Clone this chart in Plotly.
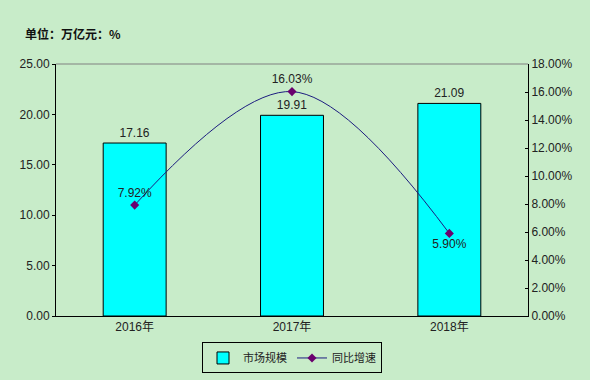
import plotly.graph_objects as go

years = ["2016年", "2017年", "2018年"]
market_size = [17.16, 19.91, 21.09]
growth = [7.92, 16.03, 5.90]
left_ticks = [0, 5, 10, 15, 20, 25]
right_ticks = [0, 2, 4, 6, 8, 10, 12, 14, 16, 18]

BG = "#C8ECC9"
FONT = "Liberation Sans, Arial, Noto Sans CJK SC, sans-serif"

fig = go.Figure()
fig.add_trace(go.Bar(
    x=years, y=market_size, name="市场规模",
    marker=dict(color="#00FFFF", line=dict(color="black", width=1)),
    text=[f"{v:.2f}" for v in market_size], textposition="outside",
    textfont=dict(size=12, color="#222"), cliponaxis=False,
))
fig.add_trace(go.Scatter(
    x=years, y=growth, name="同比增速", yaxis="y2",
    mode="lines+markers+text",
    line=dict(color="#1C1C80", width=1, shape="spline", smoothing=1.0),
    marker=dict(symbol="diamond", size=7, color="#6A006E"),
    text=[f"{v:.2f}%" for v in growth],
    textposition=["top center", "top center", "bottom center"],
    textfont=dict(size=12, color="#222"), cliponaxis=False,
))

fig.update_layout(
    width=590, height=380,
    paper_bgcolor=BG, plot_bgcolor=BG,
    margin=dict(l=56, r=62, t=64, b=64, autoexpand=False),
    font=dict(family=FONT, size=12, color="#222"),
    bargap=0.6,
    showlegend=True,
    title=dict(text="<b>单位：万亿元：%</b>", x=25/590, xanchor="left",
               y=1-35/380, yanchor="middle", xref="container", yref="container",
               font=dict(size=12, color="#111", family="Noto Sans CJK SC, sans-serif")),
    xaxis=dict(showline=True, linecolor="black", linewidth=1, showgrid=False,
               ticks="", tickfont=dict(size=12), fixedrange=True),
    yaxis=dict(range=[0, 25], tickvals=left_ticks,
               ticktext=[f"{v:.2f}" for v in left_ticks],
               showline=True, linecolor="black", linewidth=1, showgrid=False,
               ticks="outside", ticklen=3, tickcolor="black", zeroline=False),
    yaxis2=dict(range=[0, 18], tickvals=right_ticks,
                ticktext=[f"{v:.2f}%" for v in right_ticks],
                overlaying="y", side="right",
                showline=True, linecolor="black", linewidth=1, showgrid=False,
                ticks="inside", ticklen=3, tickcolor="black", zeroline=False),
    legend=dict(orientation="h", x=0.5, xanchor="center", y=-0.105, yanchor="top",
                bordercolor="black", borderwidth=1, bgcolor=BG,
                font=dict(size=11, family="Noto Sans CJK SC, sans-serif"),
                traceorder="normal", itemwidth=30, indentation=0),
    shapes=[dict(type="line", xref="paper", yref="paper", x0=0, x1=1, y0=1, y1=1,
                 line=dict(color="#808080", width=1))],
)

fig.write_html("out.html", config={"displayModeBar": False},
               post_script="document.body.style.margin='0';document.body.style.overflow='hidden';")
